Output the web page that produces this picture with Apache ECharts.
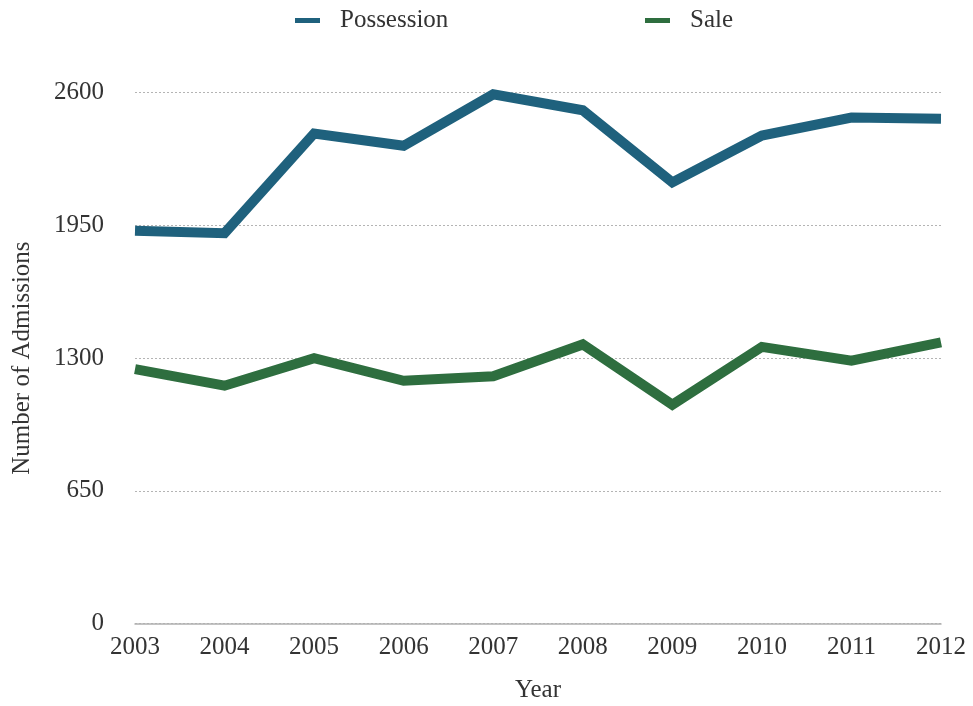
<!DOCTYPE html>
<html>
<head>
<meta charset="utf-8">
<title>Admissions by Year</title>
<script src="https://cdn.jsdelivr.net/npm/echarts@6/dist/echarts.min.js"></script>
<style>
  html, body { margin: 0; padding: 0; background: #ffffff; }
  #chart { width: 973px; height: 706px; }
</style>
</head>
<body>
<div id="chart"></div>
<script>
// Years on the horizontal axis
const years = ['2003', '2004', '2005', '2006', '2007', '2008', '2009', '2010', '2011', '2012'];

// Admissions per year for each offence type
const possession = [1924, 1912, 2400, 2340, 2592, 2514, 2161, 2390, 2478, 2472];
const sale = [1246, 1165, 1300, 1189, 1211, 1367, 1072, 1355, 1287, 1377];

// Vertical axis scale
const yMin = 0;
const yMax = 2600;
const yStep = 650;

const FONT = '"Liberation Serif", "Times New Roman", serif';
const TEXT = '#333333';
const BLUE = '#1f617d';
const GREEN = '#2e6e3f';

const chart = echarts.init(document.getElementById('chart'), null, { renderer: 'canvas' });

const legendBase = {
  top: 3,
  icon: 'rect',
  itemWidth: 25,
  itemHeight: 5,
  textStyle: { fontFamily: FONT, fontSize: 25, color: TEXT, padding: [0, 0, 0, 15] }
};

chart.setOption({
  backgroundColor: '#ffffff',
  animation: false,
  legend: [
    Object.assign({ data: ['Possession'], left: 290 }, legendBase),
    Object.assign({ data: ['Sale'], left: 640 }, legendBase)
  ],
  grid: {
    left: 135, right: 32, top: 92.7, bottom: 82.5,
    containLabel: false,
    outerBoundsMode: 'none'
  },
  xAxis: {
    type: 'category',
    data: years,
    boundaryGap: false,
    name: 'Year',
    nameLocation: 'middle',
    nameGap: 54,
    nameTextStyle: { fontFamily: FONT, fontSize: 25, color: TEXT },
    axisLine: { show: true, lineStyle: { color: '#b0b0b0', width: 1.5 } },
    axisTick: { show: false },
    axisLabel: { fontFamily: FONT, fontSize: 25, color: TEXT, margin: 11 }
  },
  yAxis: {
    type: 'value',
    min: yMin,
    max: yMax,
    interval: yStep,
    name: 'Number of Admissions',
    nameLocation: 'middle',
    nameGap: 100,
    nameTextStyle: { fontFamily: FONT, fontSize: 25, color: TEXT },
    axisLine: { show: false },
    axisTick: { show: false },
    axisLabel: {
      fontFamily: FONT, fontSize: 25, color: TEXT, margin: 31,
      formatter: (v) => String(v)
    },
    splitLine: { show: true, lineStyle: { color: '#b4b4b4', type: [2, 2], width: 1 } }
  },
  series: [
    {
      name: 'Possession',
      type: 'line',
      data: possession,
      symbol: 'none',
      color: BLUE,
      lineStyle: { color: BLUE, width: 10, join: 'miter' }
    },
    {
      name: 'Sale',
      type: 'line',
      data: sale,
      symbol: 'none',
      color: GREEN,
      lineStyle: { color: GREEN, width: 10, join: 'miter' }
    }
  ]
});
</script>
</body>
</html>
